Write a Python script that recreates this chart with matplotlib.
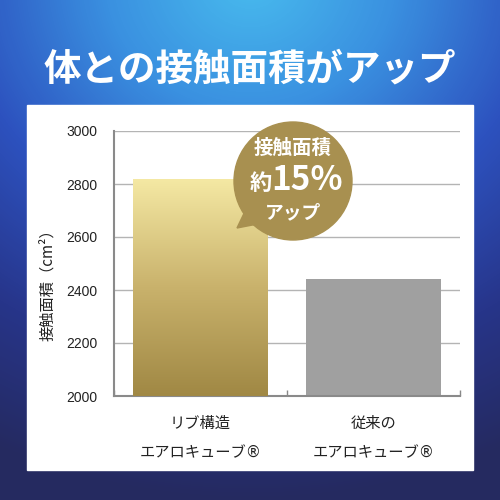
import numpy as np
import matplotlib
matplotlib.use('Agg')
import matplotlib.pyplot as plt
from matplotlib.colors import LinearSegmentedColormap
from matplotlib.patches import Circle, Polygon, Rectangle

plt.rcParams['font.family'] = ['Noto Sans CJK JP', 'DejaVu Sans']

# data
categories = ['リブ構造\nエアロキューブ®', '従来の\nエアロキューブ®']
values = [2820, 2440]
yticks = [2000, 2200, 2400, 2600, 2800, 3000]
title = '体との接触面積がアップ'
ylabel = '接触面積（cm²）'
badge_lines = ['接触面積', '約', '15%', 'アップ']

fig = plt.figure(figsize=(5, 5), dpi=100)

# background: radial blue gradient from top centre
bg = fig.add_axes([0, 0, 1, 1])
yy, xx = np.mgrid[0:500, 0:500]
r = np.sqrt((xx - 250) ** 2 * 0.8 + (yy + 20) ** 2)
bg_cmap = LinearSegmentedColormap.from_list(
    'bg', [(0.0, '#48bbee'), (0.25, '#3a90e0'), (0.5, '#2d52bf'),
           (0.75, '#27358a'), (1.0, '#252a60')])
bg.imshow(np.clip(r / 520, 0, 1), cmap=bg_cmap, extent=(0, 500, 500, 0),
          aspect='auto', vmin=0, vmax=1)
bg.add_patch(Rectangle((27, 105), 446, 365, color='white'))
bg.set_xlim(0, 500)
bg.set_ylim(500, 0)
bg.axis('off')
bg.text(250, 69, title, color='white', fontsize=27, fontweight='bold',
        ha='center', va='center')
bg.text(48, 281, ylabel, rotation=90, ha='center', va='center', fontsize=11,
        color='#222222')

# chart
ax = fig.add_axes([0.228, 0.208, 0.692, 0.53], zorder=1)
ax.set_facecolor('none')
x = np.arange(len(categories))
bars = ax.bar(x, values, width=0.78, color=['#a89050', '#a0a0a0'], zorder=2)
ax.set_xlim(-0.5, 1.5)
ax.set_ylim(2000, 3000)

# gold gradient for first bar
gold = LinearSegmentedColormap.from_list('gold', ['#a08844', '#c9b26c', '#f5e9a4'])
b0 = bars[0]
grad = np.linspace(0, 1, 256).reshape(-1, 1)
im = ax.imshow(grad, cmap=gold, origin='lower', aspect='auto', zorder=3,
               extent=(b0.get_x(), b0.get_x() + b0.get_width(), 2000, values[0]))
im.set_clip_path(b0)

ax.set_yticks(yticks)
ax.set_yticklabels([str(v) for v in yticks], fontsize=10, color='#222222',
                   family=['Liberation Sans'])
ax.yaxis.grid(True, color='#b4b4b4', linewidth=1, zorder=0)
ax.set_axisbelow(True)
ax.tick_params(axis='y', length=0, pad=12)
ax.set_xticks([-0.5, 0.5, 1.5], minor=True)
ax.set_xticks([])
ax.tick_params(axis='x', which='minor', length=4, color='#888888', width=1,
               direction='in')
for s in ['top', 'right']:
    ax.spines[s].set_visible(False)
for s in ['left', 'bottom']:
    ax.spines[s].set_color('#8a8a8a')
    ax.spines[s].set_linewidth(1.5)

for xi, lab in zip(x, categories):
    l1, l2 = lab.split('\n')
    ax.text(xi, -0.105, l1, transform=ax.get_xaxis_transform(), ha='center',
            va='center', fontsize=11, color='#222222')
    # DejaVu first so the ® mark is drawn full size, katakana falls back
    ax.text(xi, -0.215, l2, transform=ax.get_xaxis_transform(), ha='center',
            va='center', fontsize=11, color='#222222',
            family=['DejaVu Sans', 'Noto Sans CJK JP'])

# speech bubble badge, above the chart
over = fig.add_axes([0, 0, 1, 1], zorder=2)
over.set_xlim(0, 500)
over.set_ylim(500, 0)
over.axis('off')
over.patch.set_alpha(0)
badge = '#a89050'
over.add_patch(Polygon([(248, 205), (268, 222), (237, 228)], closed=True,
                       color=badge))
over.add_patch(Circle((293, 181), 59, color=badge))
over.text(293, 148, badge_lines[0], color='white', fontsize=14,
          fontweight='bold', ha='center', va='center')
over.text(261, 184, badge_lines[1], color='white', fontsize=16,
          fontweight='bold', ha='center', va='center')
over.text(307, 180, badge_lines[2], color='white', fontsize=24,
          fontweight='bold', ha='center', va='center')
over.text(293, 213, badge_lines[3], color='white', fontsize=13.5,
          fontweight='bold', ha='center', va='center')

fig.savefig('out.png', dpi=100)
